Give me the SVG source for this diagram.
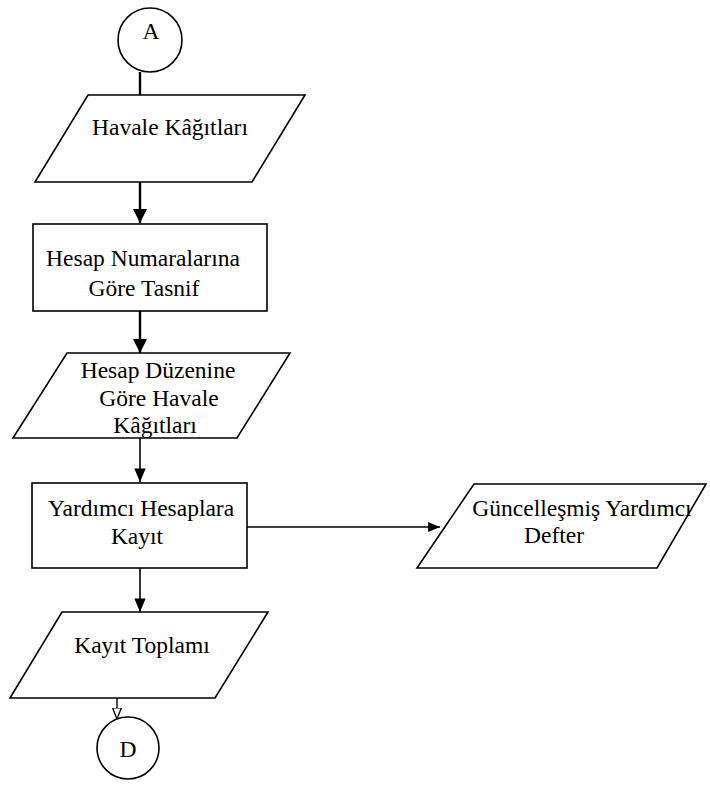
<svg xmlns="http://www.w3.org/2000/svg" width="710" height="788" viewBox="0 0 710 788">
<style>
.s{fill:#fff;stroke:#000;stroke-width:1.6}
.t{font-family:"Liberation Serif","Times New Roman",serif;font-size:23.5px;fill:#000;text-anchor:middle}
.c{fill:none;stroke:#000}
</style>
<defs>
<marker id="ar" viewBox="0 0 10 10" refX="10" refY="5" markerWidth="6" markerHeight="6" orient="auto" markerUnits="strokeWidth">
<path d="M0,0 L10,5 L0,10 z" fill="#000"/>
</marker>
<marker id="ar2" viewBox="0 0 12 10" refX="12" refY="5" markerWidth="8.5" markerHeight="8" orient="auto" markerUnits="strokeWidth">
<path d="M0,0 L12,5 L0,10 z" fill="#000"/>
</marker>
<marker id="ao" viewBox="0 0 10 10" refX="10" refY="5" markerWidth="8" markerHeight="8" orient="auto" markerUnits="strokeWidth">
<path d="M0,1 L10,5 L0,9 z" fill="#fff" stroke="#000" stroke-width="1.2"/>
</marker>
</defs>
<g id="connectors">
<line class="c" x1="140" y1="72" x2="140" y2="95" stroke-width="2.4"/>
<line class="c" x1="140" y1="182" x2="140" y2="223" stroke-width="2.4" marker-end="url(#ar)"/>
<line class="c" x1="140" y1="311" x2="140" y2="353" stroke-width="2.4" marker-end="url(#ar)"/>
<line class="c" x1="140" y1="438" x2="140" y2="482" stroke-width="1.6" marker-end="url(#ar2)"/>
<line class="c" x1="247" y1="527" x2="440" y2="527" stroke-width="1.4" marker-end="url(#ar2)"/>
<line class="c" x1="140" y1="568" x2="140" y2="612" stroke-width="1.6" marker-end="url(#ar2)"/>
<line class="c" x1="117" y1="698" x2="117" y2="719" stroke-width="1.4" marker-end="url(#ao)"/>
</g>
<g id="nodeA">
<circle class="s" cx="150" cy="40" r="32"/>
<text class="t" x="151" y="39">A</text>
</g>
<g id="node1">
<polygon class="s" points="88,95 305,95 252,182 35,182" stroke-width="2"/>
<text class="t" x="170" y="135">Havale Kâğıtları</text>
</g>
<g id="node2">
<rect class="s" x="33" y="224" width="234" height="87" stroke-width="2.2"/>
<text class="t" x="143" y="266">Hesap Numaralarına</text>
<text class="t" x="144" y="296">Göre Tasnif</text>
</g>
<g id="node3">
<polygon class="s" points="67,353 290,353 237,438 13,438"/>
<text class="t" x="158" y="378">Hesap Düzenine</text>
<text class="t" x="159" y="406">Göre Havale</text>
<text class="t" x="155" y="433">Kâğıtları</text>
</g>
<g id="node4">
<rect class="s" x="32" y="483" width="215" height="85"/>
<text class="t" x="141" y="516">Yardımcı Hesaplara</text>
<text class="t" x="137" y="544">Kayıt</text>
</g>
<g id="node5">
<polygon class="s" points="474,484 706,484 657,568 417,568"/>
<text class="t" x="582" y="516">Güncelleşmiş Yardımcı</text>
<text class="t" x="554" y="543">Defter</text>
</g>
<g id="node6">
<polygon class="s" points="62,612 268,612 215,698 10,698"/>
<text class="t" x="142" y="653">Kayıt Toplamı</text>
</g>
<g id="nodeD">
<circle class="s" cx="128" cy="748" r="31"/>
<text class="t" x="128" y="757">D</text>
</g>
</svg>
